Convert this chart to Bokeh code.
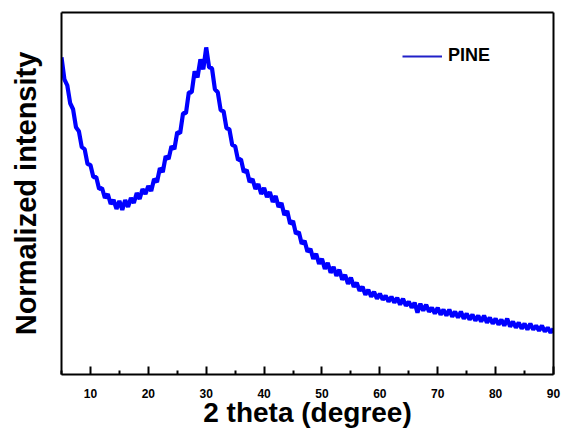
from bokeh.plotting import figure
from bokeh.models import Range1d, FixedTicker, Legend, LegendItem, LinearAxis
from bokeh.embed import file_html
from bokeh.resources import INLINE

# 2 theta grid start / step (degrees)
theta_start = 5.0
theta_step = 0.5
# Normalized intensity (a.u.), every 0.5 degree, 5 .. 90
intensity = [
    318, 296, 290, 272, 266, 248, 244, 228, 226, 211,   # 5.0 - 9.5
    210, 198, 198, 186, 187, 177, 181, 171, 175, 166,   # 10.0 - 14.5
    174, 165, 175, 168, 177, 172, 182, 176, 186, 181,   # 15.0 - 19.5
    189, 184, 196, 193, 207, 203, 219, 216, 229, 226,   # 20.0 - 24.5
    243, 242, 262, 262, 283, 283, 304, 298, 316, 306,   # 25.0 - 29.5
    328, 308, 307, 286, 283, 265, 264, 247, 246, 230,   # 30.0 - 34.5
    229, 215, 216, 203, 205, 193, 196, 186, 191, 181,   # 35.0 - 39.5
    187, 178, 183, 173, 179, 168, 172, 160, 164, 151,   # 40.0 - 44.5
    154, 141, 143, 131, 134, 123, 126, 116, 121, 111,   # 45.0 - 49.5
    116, 106, 112, 102, 108, 99, 105, 95, 100, 91,      # 50.0 - 54.5
    97, 88, 92, 84, 88, 80, 85, 78, 83, 76,             # 55.0 - 59.5
    81, 75, 79, 73, 78, 72, 77, 70, 76, 69,             # 60.0 - 64.5
    73, 67, 72, 62, 71, 64, 70, 63, 67, 61,             # 65.0 - 69.5
    67, 60, 65, 59, 65, 58, 63, 57, 63, 56,             # 70.0 - 74.5
    61, 55, 60, 54, 59, 53, 59, 52, 57, 51,             # 75.0 - 79.5
    56, 50, 55, 49, 56, 48, 53, 47, 52, 46,             # 80.0 - 84.5
    51, 45, 51, 45, 49, 44, 49, 43, 47, 42,             # 85.0 - 89.5
    46,                                                 # 90.0
]
theta = [theta_start + theta_step * i for i in range(len(intensity))]

x_major_ticks = [10, 20, 30, 40, 50, 60, 70, 80, 90]
x_minor_ticks = [5, 15, 25, 35, 45, 55, 65, 75, 85]
series_name = "PINE"

FONT = "Liberation Sans"

p = figure(width=562, height=430, output_backend="svg", toolbar_location=None,
           x_range=Range1d(5, 90), y_range=Range1d(0, 363),
           min_border_left=61, min_border_right=9, min_border_top=12, min_border_bottom=55)
p.xgrid.visible = False
p.ygrid.visible = False
p.outline_line_color = None
p.background_fill_color = "white"
p.border_fill_color = "white"

r = p.line(theta, intensity, line_color="#0000ff", line_width=4.2)

# x axis
xa = p.xaxis[0]
xa.ticker = FixedTicker(ticks=x_major_ticks, minor_ticks=x_minor_ticks)
xa.axis_line_color = "black"
xa.axis_line_width = 2
xa.major_tick_line_color = "black"
xa.minor_tick_line_color = "black"
xa.major_tick_in = 8
xa.major_tick_out = 0
xa.minor_tick_in = 4
xa.minor_tick_out = 0
xa.major_tick_line_width = 2
xa.minor_tick_line_width = 2
xa.major_label_text_font = FONT
xa.major_label_text_font_style = "bold"
xa.major_label_text_font_size = "12px"
xa.major_label_text_color = "black"
xa.major_label_standoff = 14
xa.axis_label = "2 theta (degree)"
xa.axis_label_text_font = FONT
xa.axis_label_text_font_style = "bold"
xa.axis_label_text_font_size = "28px"
xa.axis_label_text_color = "black"
xa.axis_label_standoff = -4

# y axis (no ticks, no labels)
ya = p.yaxis[0]
ya.ticker = FixedTicker(ticks=[])
ya.axis_line_color = "black"
ya.axis_line_width = 2
ya.major_tick_line_color = None
ya.minor_tick_line_color = None
ya.major_label_text_font_size = "0px"
ya.axis_label = "Normalized intensity"
ya.axis_label_text_font = FONT
ya.axis_label_text_font_style = "bold"
ya.axis_label_text_font_size = "29px"
ya.axis_label_text_color = "black"
ya.axis_label_standoff = 20

# plain frame lines on top and right
for side in ("above", "right"):
    ax = LinearAxis(ticker=FixedTicker(ticks=[]), axis_line_color="black",
                    axis_line_width=2, major_tick_line_color=None,
                    minor_tick_line_color=None, major_label_text_font_size="0px",
                    major_label_standoff=0)
    p.add_layout(ax, side)

# legend
legend_line = p.line([float("nan"), float("nan")], [float("nan"), float("nan")],
                     line_color="#2020c8", line_width=2)
legend = Legend(items=[LegendItem(label=series_name, renderers=[legend_line])],
                location=(341, 308), border_line_color=None,
                background_fill_alpha=0, padding=0, margin=0, spacing=0,
                glyph_width=40, glyph_height=20, label_height=20,
                label_standoff=6, label_text_font=FONT, label_text_color="black",
                label_text_font_style="bold", label_text_font_size="18px")
p.add_layout(legend, "center")

open("out.html", "w").write(file_html(p, INLINE))
